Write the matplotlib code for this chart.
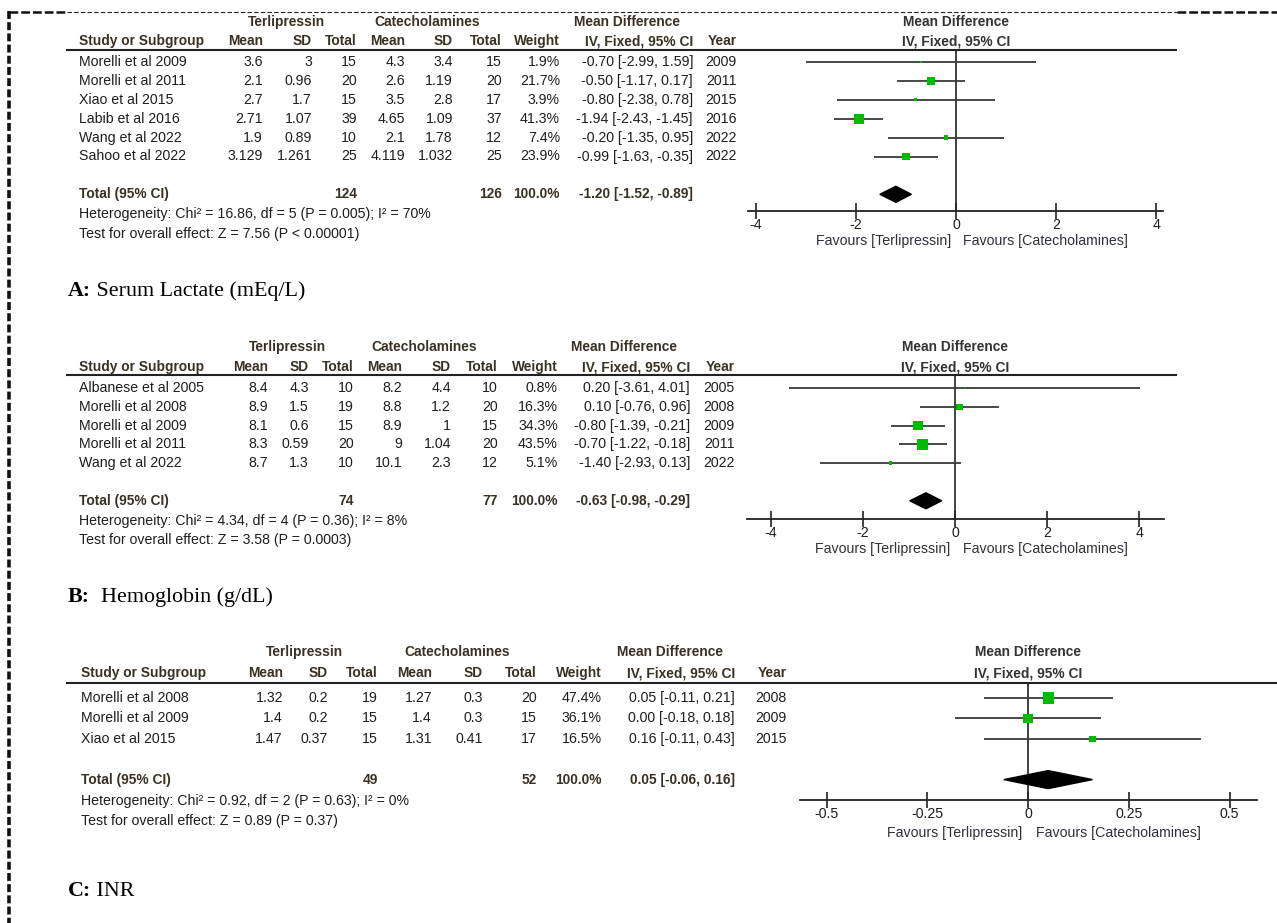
import matplotlib
matplotlib.use("Agg")
import matplotlib.pyplot as plt

W, H = 1277, 923

# ---------------- Panel A: Serum Lactate ----------------
a_study = ["Morelli et al 2009", "Morelli et al 2011", "Xiao et al 2015",
           "Labib et al 2016", "Wang et al 2022", "Sahoo et al 2022"]
a_t_mean = [3.6, 2.1, 2.7, 2.71, 1.9, 3.129]
a_t_sd = [3, 0.96, 1.7, 1.07, 0.89, 1.261]
a_t_n = [15, 20, 15, 39, 10, 25]
a_c_mean = [4.3, 2.6, 3.5, 4.65, 2.1, 4.119]
a_c_sd = [3.4, 1.19, 2.8, 1.09, 1.78, 1.032]
a_c_n = [15, 20, 17, 37, 12, 25]
a_weight = [1.9, 21.7, 3.9, 41.3, 7.4, 23.9]
a_md = [-0.70, -0.50, -0.80, -1.94, -0.20, -0.99]
a_lo = [-2.99, -1.17, -2.38, -2.43, -1.35, -1.63]
a_hi = [1.59, 0.17, 0.78, -1.45, 0.95, -0.35]
a_year = [2009, 2011, 2015, 2016, 2022, 2022]
a_total = [-1.20, -1.52, -0.89]
a_het = "Heterogeneity: Chi\u00b2 = 16.86, df = 5 (P = 0.005); I\u00b2 = 70%"
a_z = "Test for overall effect: Z = 7.56 (P < 0.00001)"
a_ticks = [-4, -2, 0, 2, 4]
a_ticklabels = ["-4", "-2", "0", "2", "4"]

# ---------------- Panel B: Hemoglobin ----------------
b_study = ["Albanese et al 2005", "Morelli et al 2008", "Morelli et al 2009",
           "Morelli et al 2011", "Wang et al 2022"]
b_t_mean = [8.4, 8.9, 8.1, 8.3, 8.7]
b_t_sd = [4.3, 1.5, 0.6, 0.59, 1.3]
b_t_n = [10, 19, 15, 20, 10]
b_c_mean = [8.2, 8.8, 8.9, 9, 10.1]
b_c_sd = [4.4, 1.2, 1, 1.04, 2.3]
b_c_n = [10, 20, 15, 20, 12]
b_weight = [0.8, 16.3, 34.3, 43.5, 5.1]
b_md = [0.20, 0.10, -0.80, -0.70, -1.40]
b_lo = [-3.61, -0.76, -1.39, -1.22, -2.93]
b_hi = [4.01, 0.96, -0.21, -0.18, 0.13]
b_year = [2005, 2008, 2009, 2011, 2022]
b_total = [-0.63, -0.98, -0.29]
b_het = "Heterogeneity: Chi\u00b2 = 4.34, df = 4 (P = 0.36); I\u00b2 = 8%"
b_z = "Test for overall effect: Z = 3.58 (P = 0.0003)"
b_ticks = [-4, -2, 0, 2, 4]
b_ticklabels = ["-4", "-2", "0", "2", "4"]

# ---------------- Panel C: INR ----------------
c_study = ["Morelli et al 2008", "Morelli et al 2009", "Xiao et al 2015"]
c_t_mean = [1.32, 1.4, 1.47]
c_t_sd = [0.2, 0.2, 0.37]
c_t_n = [19, 15, 15]
c_c_mean = [1.27, 1.4, 1.31]
c_c_sd = [0.3, 0.3, 0.41]
c_c_n = [20, 15, 17]
c_weight = [47.4, 36.1, 16.5]
c_md = [0.05, 0.00, 0.16]
c_lo = [-0.11, -0.18, -0.11]
c_hi = [0.21, 0.18, 0.43]
c_year = [2008, 2009, 2015]
c_total = [0.05, -0.06, 0.16]
c_het = "Heterogeneity: Chi\u00b2 = 0.92, df = 2 (P = 0.63); I\u00b2 = 0%"
c_z = "Test for overall effect: Z = 0.89 (P = 0.37)"
c_ticks = [-0.5, -0.25, 0, 0.25, 0.5]
c_ticklabels = ["-0.5", "-0.25", "0", "0.25", "0.5"]

captions = ["A:", "B:", "C:"]
caption_titles = [" Serum Lactate (mEq/L)", "  Hemoglobin (g/dL)", " INR"]

GREEN = "#00bb00"
TXT = "#1e1e1e"
HDR = "#3a3124"
FS = 10.2      # regular table text
FSB = 9.9      # bold headers
SANS = "Liberation Sans"
SERIF = "Liberation Serif"

fig = plt.figure(figsize=(W / 100, H / 100), dpi=100)
bg = fig.add_axes([0, 0, 1, 1])
bg.set_xlim(0, W)
bg.set_ylim(H, 0)
bg.axis("off")

# page border (dashed, like a pasted frame)
bg.plot([9, 67], [11.5, 11.5], color="#111", lw=1.8, dashes=(3.5, 1.2))
bg.plot([67, 1177], [11.5, 11.5], color="#222", lw=0.8, dashes=(4, 2))
bg.plot([1177, W], [11.5, 11.5], color="#111", lw=1.8, dashes=(3.5, 1.2))
bg.plot([9, 9], [11, H], color="#111", lw=2.6, dashes=(2.2, 0.9))


def fmt(v):
    return f"{v:g}"


def ci(m, lo, hi):
    return f"{m:.2f} [{lo:.2f}, {hi:.2f}]"


def txt(x, y, s, ha="left", bold=False, color=TXT, size=None, family=SANS):
    if size is None:
        size = FSB if bold else FS
    return bg.text(x, y, s, ha=ha, va="center", fontsize=size, color=color,
                   fontweight="bold" if bold else "normal", family=family)


def draw_panel(p, lay):
    cols = lay["cols"]
    n = len(p["study"])
    rowy = lambda i: lay["row0"] + i * lay["step"]

    # group headers
    txt(lay["grp"][0], lay["h1"], "Terlipressin", ha="center", bold=True, color=HDR)
    txt(lay["grp"][1], lay["h1"], "Catecholamines", ha="center", bold=True, color=HDR)
    txt(lay["grp"][2], lay["h1"], "Mean Difference", ha="center", bold=True, color=HDR)
    heads = ["Mean", "SD", "Total", "Mean", "SD", "Total", "Weight",
             "IV, Fixed, 95% CI", "Year"]
    txt(lay["left"], lay["h2"], "Study or Subgroup", bold=True, color=HDR)
    for x, h in zip(cols, heads):
        txt(x, lay["h2"], h, ha="right", bold=True, color=HDR)
    bg.plot([67, lay["line_end"]], [lay["line"], lay["line"]], color="#222", lw=1.5)

    # study rows
    for i in range(n):
        y = rowy(i)
        txt(lay["left"], y, p["study"][i])
        vals = [fmt(p["t_mean"][i]), fmt(p["t_sd"][i]), str(p["t_n"][i]),
                fmt(p["c_mean"][i]), fmt(p["c_sd"][i]), str(p["c_n"][i]),
                f"{p['weight'][i]:.1f}%",
                ci(p["md"][i], p["lo"][i], p["hi"][i]), str(p["year"][i])]
        for x, v in zip(cols, vals):
            txt(x, y, v, ha="right")

    # total row
    yt = rowy(n + 1)
    txt(lay["left"], yt, "Total (95% CI)", bold=True, color=HDR)
    txt(cols[2], yt, str(sum(p["t_n"])), ha="right", bold=True, color=HDR)
    txt(cols[5], yt, str(sum(p["c_n"])), ha="right", bold=True, color=HDR)
    txt(cols[6], yt, "100.0%", ha="right", bold=True, color=HDR)
    txt(cols[7], yt, ci(*p["total"]), ha="right", bold=True, color=HDR)
    txt(lay["left"], lay["het"], p["het"])
    txt(lay["left"], lay["zy"], p["z"])

    # forest headers
    zx = lay["zero"]
    txt(zx, lay["h1"], "Mean Difference", ha="center", bold=True, color="#333")
    txt(zx, lay["h2"], "IV, Fixed, 95% CI", ha="center", bold=True, color="#333")

    # forest axes positioned so data units map to the reference pixel scale
    xl, xr, ppu = lay["fx"][0], lay["fx"][1], lay["ppu"]
    yb, ytop = lay["axis"], lay["line"]
    ax = fig.add_axes([xl / W, 1 - yb / H, (xr - xl) / W, (yb - ytop) / H])
    ax.set_xlim((xl - zx) / ppu, (xr - zx) / ppu)
    ax.set_ylim((yb - lay["row0"]) / lay["step"], (ytop - lay["row0"]) / lay["step"])
    ax.patch.set_alpha(0)
    for s in ["top", "left", "right"]:
        ax.spines[s].set_visible(False)
    ax.spines["bottom"].set_linewidth(1.3)
    ax.spines["bottom"].set_color("#222")
    ax.set_yticks([])
    ax.set_xticks(p["ticks"])
    ax.set_xticklabels(p["ticklabels"], fontsize=FS, family=SANS, color=TXT)
    ax.tick_params(axis="x", direction="inout", length=11, width=1.2,
                   color="#222", pad=-0.5)
    ax.axvline(0, color="#222", lw=1.2, zorder=1)

    rows = list(range(n))
    ax.hlines(rows, p["lo"], p["hi"], color="#3a3a3a", lw=1.3, zorder=2)
    sizes = [(1.6 * w ** 0.5 * 0.72) ** 2 for w in p["weight"]]
    ax.scatter(p["md"], rows, s=sizes, marker="s", color=GREEN, linewidths=0, zorder=3)
    m, lo, hi = p["total"]
    h = lay["dia"] / lay["step"]
    ax.fill([lo, m, hi, m], [n + 1, n + 1 - h, n + 1, n + 1 + h], color="black", zorder=3)

    txt(zx + lay["fav"][0], lay["favy"], "Favours [Terlipressin]", ha="right", color="#30303c")
    txt(zx + lay["fav"][1], lay["favy"], "Favours [Catecholamines]", ha="left", color="#30303c")


panels = [
    dict(study=a_study, t_mean=a_t_mean, t_sd=a_t_sd, t_n=a_t_n, c_mean=a_c_mean,
         c_sd=a_c_sd, c_n=a_c_n, weight=a_weight, md=a_md, lo=a_lo, hi=a_hi,
         year=a_year, total=a_total, het=a_het, z=a_z, ticks=a_ticks,
         ticklabels=a_ticklabels),
    dict(study=b_study, t_mean=b_t_mean, t_sd=b_t_sd, t_n=b_t_n, c_mean=b_c_mean,
         c_sd=b_c_sd, c_n=b_c_n, weight=b_weight, md=b_md, lo=b_lo, hi=b_hi,
         year=b_year, total=b_total, het=b_het, z=b_z, ticks=b_ticks,
         ticklabels=b_ticklabels),
    dict(study=c_study, t_mean=c_t_mean, t_sd=c_t_sd, t_n=c_t_n, c_mean=c_c_mean,
         c_sd=c_c_sd, c_n=c_c_n, weight=c_weight, md=c_md, lo=c_lo, hi=c_hi,
         year=c_year, total=c_total, het=c_het, z=c_z, ticks=c_ticks,
         ticklabels=c_ticklabels),
]

layouts = [
    dict(left=79, cols=[263, 312, 357, 405, 453, 502, 560, 693, 737],
         grp=[286, 427, 627], h1=22, h2=41, line=50, line_end=1176,
         row0=62, step=18.9, het=214, zy=234,
         zero=956, ppu=50.1, fx=(748, 1163), axis=211, dia=8,
         fav=(-5, 7), favy=241, cap=291),
    dict(left=79, cols=[268, 309, 354, 402, 451, 498, 558, 690, 735],
         grp=[287, 424, 624], h1=347, h2=367, line=375, line_end=1176,
         row0=388, step=18.8, het=521, zy=540,
         zero=955, ppu=46.1, fx=(747, 1164), axis=519, dia=8,
         fav=(-5, 8), favy=549, cap=597),
    dict(left=81, cols=[283, 328, 378, 432, 483, 537, 602, 735, 787],
         grp=[304, 457, 670], h1=652, h2=673, line=683, line_end=W,
         row0=698, step=20.4, het=801, zy=821,
         zero=1028, ppu=403, fx=(800, 1257), axis=800, dia=9,
         fav=(-6, 8), favy=833, cap=891),
]

for p, lay in zip(panels, layouts):
    draw_panel(p, lay)

# panel captions: bold letter followed by regular title
renderer = fig.canvas.get_renderer()
for lab, title, lay in zip(captions, caption_titles, layouts):
    t = txt(68, lay["cap"], lab, bold=True, size=15.8, family=SERIF, color="black")
    bb = t.get_window_extent(renderer)
    txt(bb.x1, lay["cap"], title, size=15.8, family=SERIF, color="black")

fig.savefig("out.png", dpi=100)
